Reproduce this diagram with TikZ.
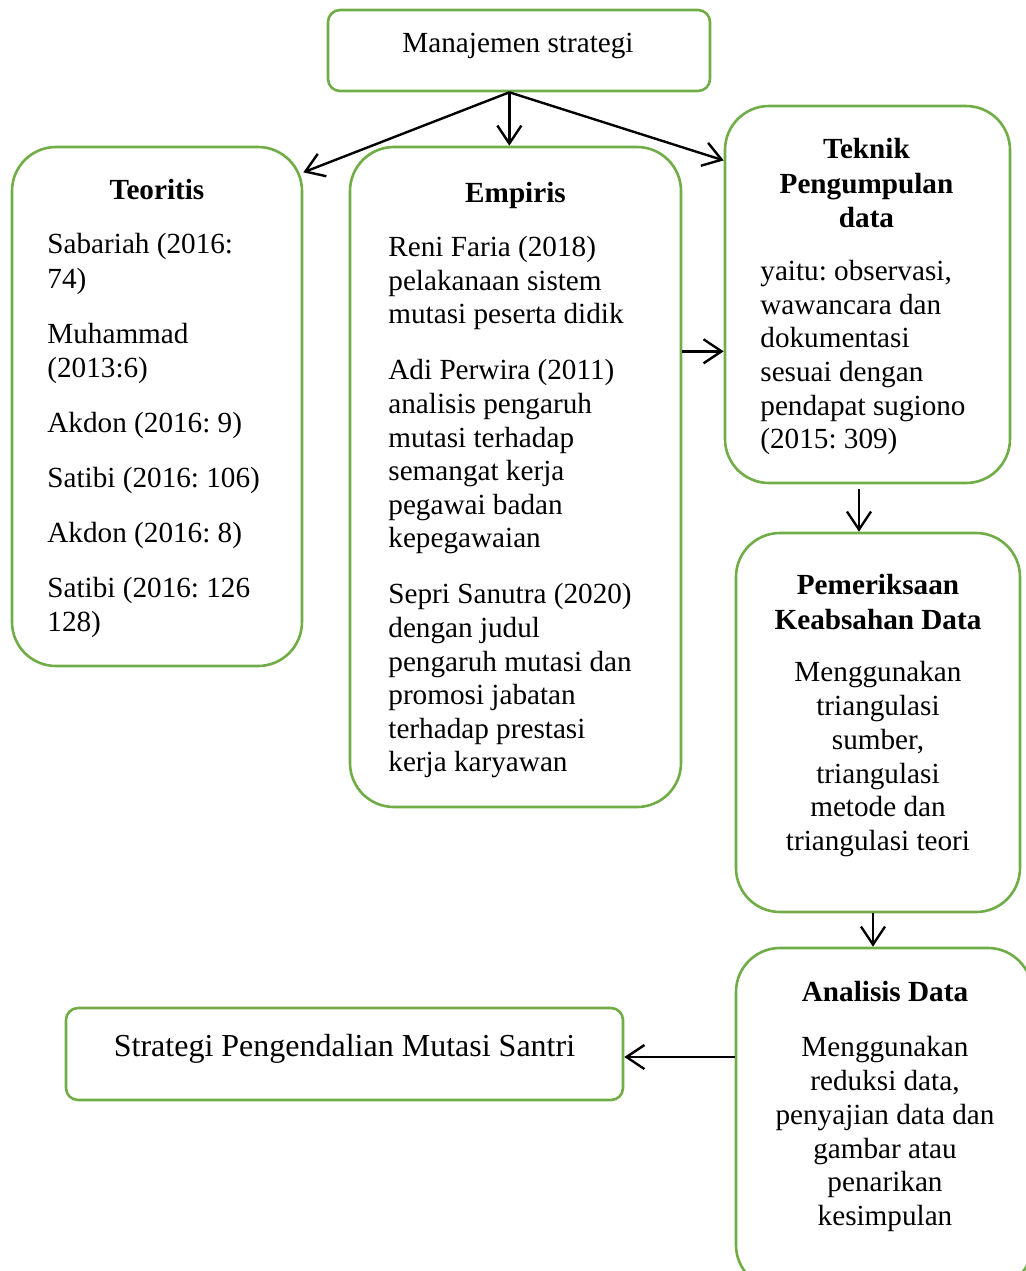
\documentclass[tikz,border=0pt]{standalone}
\usepackage{fontspec}
\setmainfont{Liberation Serif}
\frenchspacing
\usetikzlibrary{arrows.meta,positioning}
\definecolor{hijau}{RGB}{112,173,71}
\tikzset{
  kotak/.style={draw=hijau,line width=1.3pt,rounded corners=22pt,inner sep=0pt},
  kotakk/.style={kotak,rounded corners=6pt},
  judul/.style={font=\fontsize{14.6}{17.2}\selectfont\bfseries,align=center,
                inner sep=0pt,anchor=north},
  isi/.style={font=\fontsize{14.6}{17.2}\selectfont,align=left,inner sep=0pt,
              anchor=north west},
  isic/.style={isi,align=center,anchor=north},
  panah/.style={-{Straight Barb[length=9pt,width=12pt]},line width=1.2pt},
}

\begin{document}
\begin{tikzpicture}[x=0.5pt,y=-0.5pt]
  \useasboundingbox (0,0) rectangle (1026,1271);

  % kotak-kotak
  \node[kotakk,minimum width=191pt,minimum height=40.5pt] (top)  at (519,50.5)  {};
  \node[kotak,minimum width=145pt,minimum height=259.5pt] (teor) at (157,406.5)  {};
  \node[kotak,minimum width=165.5pt,minimum height=330pt] (emp)  at (515.5,477)  {};
  \node[kotak,minimum width=142.5pt,minimum height=188.5pt](tek)  at (867.5,294.5) {};
  \node[kotak,minimum width=142pt,minimum height=189.5pt] (pem)  at (878,722.5)  {};
  \node[kotak,minimum width=148pt,minimum height=170.5pt] (ana)  at (884,1118.5) {};
  \node[kotakk,minimum width=278.5pt,minimum height=46pt] (strat) at (344.5,1054) {};

  % teks
  \node[isic] (topT) at (518,33) {Manajemen strategi};

  \node[judul] (teorJ) at (157,179) {Teoritis};
  \node[isi] (teorT) at (47,233) {Sabariah (2016:\\74)\\[10.3pt]
    Muhammad\\(2013:6)\\[10.3pt]
    Akdon (2016: 9)\\[10.3pt]
    Satibi (2016: 106)\\[10.3pt]
    Akdon (2016: 8)\\[10.3pt]
    Satibi (2016: 126\\128)};

  \node[judul] (empJ) at (515.5,182) {Empiris};
  \node[isi,font=\fontsize{14.6}{16.8}\selectfont] (empT) at (388,236)
    {Reni Faria (2018)\\pelakanaan sistem\\mutasi peserta didik\\[11.2pt]
    Adi Perwira (2011)\\analisis pengaruh\\mutasi terhadap\\semangat kerja\\
    pegawai badan\\kepegawaian\\[11.2pt]
    Sepri Sanutra (2020)\\dengan judul\\pengaruh mutasi dan\\promosi jabatan\\
    terhadap prestasi\\kerja karyawan};

  \node[judul] (tekJ) at (866.5,138) {Teknik\\Pengumpulan\\data};
  \node[isi,font=\fontsize{14.6}{16.8}\selectfont] (tekT) at (760,260)
    {yaitu: observasi,\\wawancara dan\\dokumentasi\\
    sesuai dengan\\pendapat sugiono\\(2015: 309)};

  \node[judul] (pemJ) at (878,574) {Pemeriksaan\\Keabsahan Data};
  \node[isic,font=\fontsize{14.6}{16.9}\selectfont] (pemT) at (878,661)
    {Menggunakan\\triangulasi\\sumber,\\triangulasi\\
    metode dan\\triangulasi teori};

  \node[judul] (anaJ) at (885,981) {Analisis Data};
  \node[isic,font=\fontsize{14.6}{16.9}\selectfont] (anaT) at (885,1036)
    {Menggunakan\\reduksi data,\\penyajian data dan\\
    gambar atau\\penarikan\\kesimpulan};

  \node[isic,font=\fontsize{16}{19}\selectfont] (stratT) at (344.5,1034)
    {Strategi Pengendalian Mutasi Santri};

  % panah
  \draw[panah] (top.257) -- (teor.58);
  \draw[panah] (top.257) -- (top.257 |- emp.north);
  \draw[panah] (top.257) -- (tek.137);
  \draw[panah] (emp.37) -- (emp.37 -| tek.west);
  \coordinate (tp) at ([xshift=-4.25pt,yshift=-2.5pt]tek.south);
  \draw[panah] (tp) -- (tp |- pem.north);
  \coordinate (pp) at ([xshift=-2.5pt]pem.south);
  \draw[panah] (pp) -- (pp |- ana.north);
  \coordinate (sp) at ([yshift=-1.5pt]strat.east);
  \draw[panah] (sp -| ana.west) -- (sp);
\end{tikzpicture}
\end{document}
